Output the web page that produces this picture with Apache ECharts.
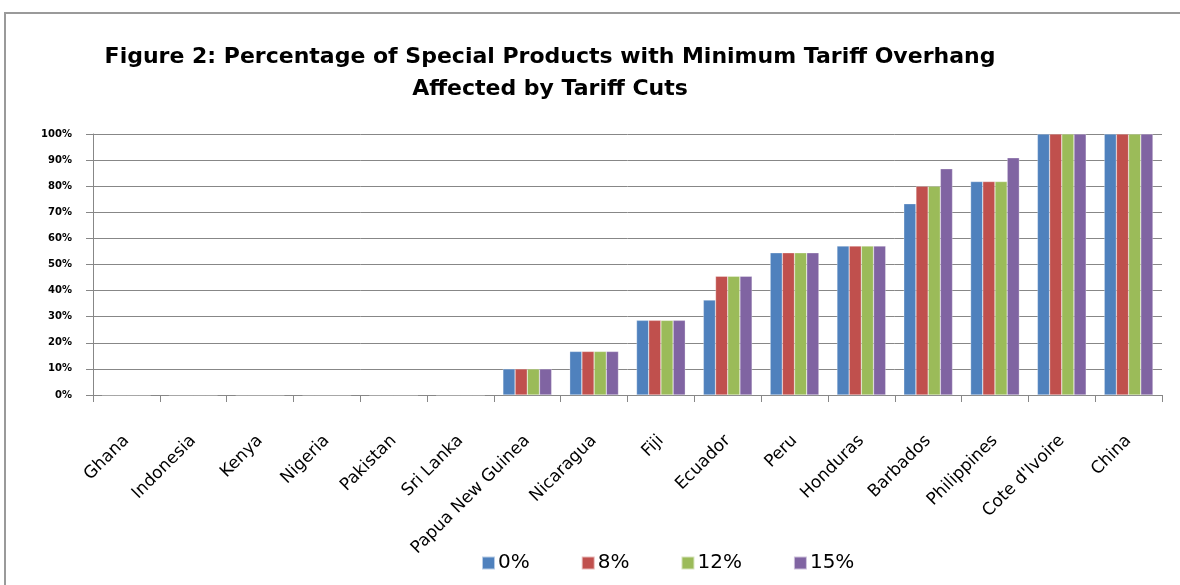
<!DOCTYPE html>
<html><head><meta charset="utf-8">
<script src="https://cdn.jsdelivr.net/npm/echarts@6/dist/echarts.min.js"></script>
<style>html,body{margin:0;padding:0;background:#fff}#c{width:1180px;height:585px}</style>
</head><body><div id="c"></div>
<script>
const categories = ["Ghana","Indonesia","Kenya","Nigeria","Pakistan","Sri Lanka","Papua New Guinea","Nicaragua","Fiji","Ecuador","Peru","Honduras","Barbados","Philippines","Cote d'Ivoire","China"];
const seriesNames = ["0%","8%","12%","15%"];
const s0 = [0,0,0,0,0,0,10,16.7,28.6,36.4,54.5,57.1,73.3,81.8,100,100];
const s8 = [0,0,0,0,0,0,10,16.7,28.6,45.5,54.5,57.1,80.0,81.8,100,100];
const s12 = [0,0,0,0,0,0,10,16.7,28.6,45.5,54.5,57.1,80.0,81.8,100,100];
const s15 = [0,0,0,0,0,0,10,16.7,28.6,45.5,54.5,57.1,86.7,90.9,100,100];
const colors = ["#4F81BD","#C0504D","#9BBB59","#8064A2"];
const values = [s0,s8,s12,s15];

const chart = echarts.init(document.getElementById('c'));
chart.setOption({
  animation:false,
  backgroundColor:'#fff',
  title:{
    text:'Figure 2: Percentage of Special Products with Minimum Tariff Overhang\nAffected by Tariff Cuts',
    left:545, top:36, textAlign:'center',
    textStyle:{fontFamily:'DejaVu Sans',fontSize:22,fontWeight:'bold',color:'#000',lineHeight:32}
  },
  graphic:[{type:'polyline',shape:{points:[[5,600],[5,13],[1200,13]]},style:{stroke:'#9a9a9a',lineWidth:2,fill:null},silent:true}],
  legend:{
    bottom:7, left:476, itemGap:51, itemWidth:13, itemHeight:13,
    icon:'rect',
    textStyle:{fontFamily:'DejaVu Sans',fontSize:20,color:'#000',padding:[0,0,0,-2]},
    data:seriesNames
  },
  grid:{left:93,right:18,top:134,bottom:190,containLabel:false},
  xAxis:{
    type:'category', data:categories,
    axisLine:{lineStyle:{color:'#878787',width:1}},
    axisTick:{show:true,length:7,lineStyle:{color:'#878787'}},
    axisLabel:{rotate:45,interval:0,fontFamily:'DejaVu Sans',fontSize:17,color:'#000',margin:43}
  },
  yAxis:{
    type:'value', min:0, max:100, interval:10,
    axisLine:{show:true,lineStyle:{color:'#878787',width:1}},
    axisTick:{show:true,length:7,lineStyle:{color:'#878787'}},
    splitLine:{lineStyle:{color:'#878787',width:1}},
    axisLabel:{formatter:'{value}%',fontFamily:'DejaVu Sans',fontSize:10,fontWeight:'bold',color:'#000',margin:21}
  },
  series: seriesNames.map((n,i)=>({
    name:n, type:'bar', data:values[i], barGap:'0%', barCategoryGap:'27%',
    itemStyle:{color:colors[i],borderColor:'rgba(255,255,255,0.6)',borderWidth:0.5}
  }))
});
</script></body></html>
